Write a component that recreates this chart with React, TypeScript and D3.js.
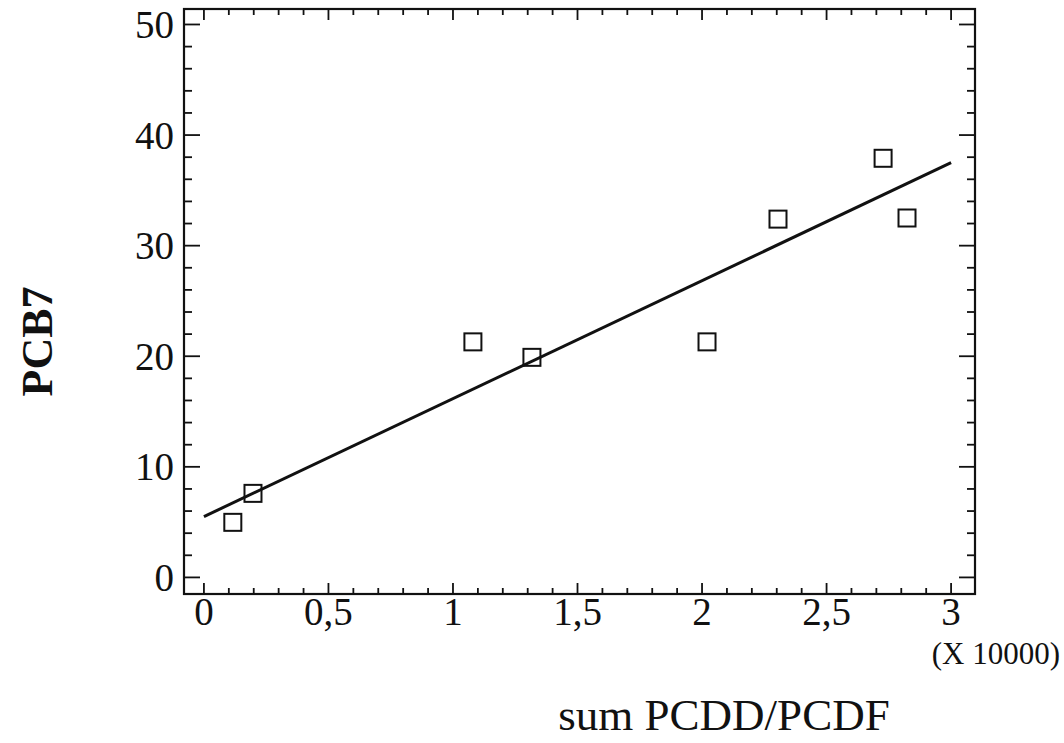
import React from "react";
import * as d3 from "d3";

const xValues = [0.116, 0.197, 1.08, 1.317, 2.02, 2.305, 2.727, 2.823];
const yValues = [4.98, 7.6, 21.3, 19.9, 21.3, 32.4, 37.9, 32.5];
const fitX = [0, 3];
const fitY = [5.5, 37.5];
const xTickValues = [0, 0.5, 1, 1.5, 2, 2.5, 3];
const xTickLabels = ["0", "0,5", "1", "1,5", "2", "2,5", "3"];
const yTickValues = [0, 10, 20, 30, 40, 50];
const yTickLabels = ["0", "10", "20", "30", "40", "50"];
const xLabel = "sum PCDD/PCDF";
const yLabel = "PCB7";
const xMultiplier = "(X 10000)";

const W = 1064;
const H = 743;
const L = 184, R = 975, T = 9, B = 594;
const FONT = "'Liberation Serif', 'Times New Roman', serif";

export default function App() {
  const x = d3.scaleLinear().domain([-0.08, 3.096]).range([L, R]);
  const y = d3.scaleLinear().domain([-1.5, 51.4]).range([B, T]);

  const xMinor = d3.range(0, 31).map((i) => i / 10);
  const yMinor = d3.range(0, 26).map((i) => i * 2);

  const line = d3.line<number>().x((d, i) => x(fitX[i])).y((d, i) => y(fitY[i]));
  const sq = 17;

  return (
    <svg width={W} height={H} style={{ position: "absolute", left: 0, top: 0, background: "#fff" }}>
      <rect x={0} y={0} width={W} height={H} fill="#fff" />
      {xMinor.map((v, i) => {
        const major = i % 5 === 0;
        const len = major ? 11 : 6;
        return (
          <g key={"xt" + i} stroke="#111" strokeWidth={1.8}>
            <line x1={x(v)} x2={x(v)} y1={B} y2={B - len} />
            <line x1={x(v)} x2={x(v)} y1={T} y2={T + len} />
          </g>
        );
      })}
      {yMinor.map((v, i) => {
        const major = i % 5 === 0;
        const len = major ? 16 : 8;
        return (
          <g key={"yt" + i} stroke="#111" strokeWidth={1.8}>
            <line x1={L} x2={L + len} y1={y(v)} y2={y(v)} />
            <line x1={R} x2={R - len} y1={y(v)} y2={y(v)} />
          </g>
        );
      })}
      <rect x={L} y={T} width={R - L} height={B - T} fill="none" stroke="#111" strokeWidth={2.2} />
      {xTickValues.map((v, i) => (
        <text key={"xl" + i} x={x(v)} y={B + 31} textAnchor="middle" fontFamily={FONT} fontSize={39} fill="#111">
          {xTickLabels[i]}
        </text>
      ))}
      {yTickValues.map((v, i) => (
        <text key={"yl" + i} x={L - 10} y={y(v)} dy="0.35em" textAnchor="end" fontFamily={FONT} fontSize={39} fill="#111">
          {yTickLabels[i]}
        </text>
      ))}
      <text x={1060} y={664} textAnchor="end" fontFamily={FONT} fontSize={31} fill="#111">
        {xMultiplier}
      </text>
      <text x={724} y={730} textAnchor="middle" fontFamily={FONT} fontSize={45} fill="#111">
        {xLabel}
      </text>
      <text
        transform={`translate(52, ${(T + B) / 2 + 40}) rotate(-90)`}
        textAnchor="middle"
        fontFamily={FONT}
        fontSize={44}
        fontWeight="bold"
        fill="#111"
      >
        {yLabel}
      </text>
      <path d={line(fitX) || ""} fill="none" stroke="#111" strokeWidth={3} />
      {xValues.map((v, i) => (
        <rect
          key={"p" + i}
          x={x(v) - sq / 2}
          y={y(yValues[i]) - sq / 2}
          width={sq}
          height={sq}
          fill="none"
          stroke="#111"
          strokeWidth={2}
        />
      ))}
    </svg>
  );
}
